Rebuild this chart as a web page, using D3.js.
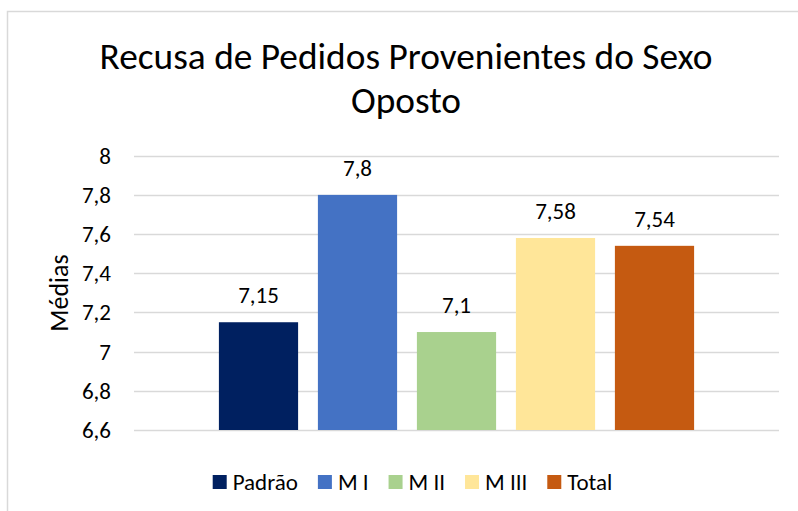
<!DOCTYPE html>
<html>
<head>
<meta charset="utf-8">
<script src="https://cdn.jsdelivr.net/npm/d3@7"></script>
<style>
  body { margin: 0; background: #fff; }
  svg { display: block; }
  text { font-family: Carlito, Calibri, "Liberation Sans", sans-serif; fill: #000; }
</style>
</head>
<body>
<div id="chart"></div>
<script>
// Chart data
const titleLines = ["Recusa de Pedidos Provenientes do Sexo", "Oposto"];
const series = ["Padrão", "M I", "M II", "M III", "Total"];
const values = [7.15, 7.8, 7.1, 7.58, 7.54];
const colors = ["#002060", "#4472C4", "#A9D18E", "#FFE699", "#C55A11"];
const yTicks = [6.6, 6.8, 7, 7.2, 7.4, 7.6, 7.8, 8];
const yLabel = "Médias";

const width = 798, height = 511;
const plot = { left: 134, right: 779, top: 155.7, bottom: 430 };

const svg = d3.select("#chart").append("svg")
    .attr("width", width)
    .attr("height", height);

// chart border (only left and top are visible in the crop)
svg.append("rect")
    .attr("x", 7.5).attr("y", 11.5)
    .attr("width", 820).attr("height", 540)
    .attr("fill", "none")
    .attr("stroke", "#d9d9d9")
    .attr("stroke-width", 1.5);

const y = d3.scaleLinear()
    .domain([6.6, 8])
    .range([plot.bottom, plot.top]);

const x = d3.scaleBand()
    .domain(series)
    .range([209, 704])
    .paddingInner(0.2)
    .paddingOuter(0.1);

const comma = v => String(v).replace(".", ",");

// Gridlines
svg.append("g")
    .selectAll("line")
    .data(yTicks)
    .enter().append("line")
    .attr("x1", plot.left)
    .attr("x2", plot.right)
    .attr("y1", d => Math.round(y(d)) + 0.5)
    .attr("y2", d => Math.round(y(d)) + 0.5)
    .attr("stroke", "#d9d9d9")
    .attr("stroke-width", 1.5);

// Y tick labels
svg.append("g")
    .selectAll("text")
    .data(yTicks)
    .enter().append("text")
    .attr("x", 111)
    .attr("y", d => y(d))
    .attr("dy", "0.35em")
    .attr("text-anchor", "end")
    .style("font-size", "23px")
    .text(d => comma(d));

// Axis title
svg.append("text")
    .attr("transform", "translate(68,293) rotate(-90)")
    .attr("text-anchor", "middle")
    .style("font-size", "26px")
    .text(yLabel);

// Bars
svg.append("g")
    .selectAll("rect")
    .data(values)
    .enter().append("rect")
    .attr("x", (d, i) => x(series[i]))
    .attr("width", x.bandwidth())
    .attr("y", d => y(d))
    .attr("height", d => plot.bottom - y(d))
    .attr("fill", (d, i) => colors[i]);

// Value labels
svg.append("g")
    .selectAll("text")
    .data(values)
    .enter().append("text")
    .attr("x", (d, i) => x(series[i]) + x.bandwidth() / 2)
    .attr("y", d => y(d) - 19)
    .attr("text-anchor", "middle")
    .style("font-size", "23px")
    .text(d => comma(d));

// Title, scaled so the first line spans the same width as the original
const title = svg.append("g");
const t1 = title.append("text")
    .attr("x", 406).attr("y", 69)
    .attr("text-anchor", "middle")
    .style("font-size", "34px")
    .text(titleLines[0]);
const fit = 34 * 613 / t1.node().getComputedTextLength();
t1.style("font-size", fit + "px");
title.append("text")
    .attr("x", 406).attr("y", 113)
    .attr("text-anchor", "middle")
    .style("font-size", fit + "px")
    .text(titleLines[1]);

// Legend
const legend = svg.append("g");
const items = series.map((s, i) => {
    const g = legend.append("g");
    g.append("rect")
        .attr("width", 14).attr("height", 14)
        .attr("y", -7)
        .attr("fill", colors[i]);
    const t = g.append("text")
        .attr("x", 20)
        .attr("dy", "0.35em")
        .style("font-size", "23px")
        .text(s);
    return { g, w: 20 + t.node().getComputedTextLength() };
});
const gap = 20;
const total = d3.sum(items, d => d.w) + gap * (items.length - 1);
let cx = 412.5 - total / 2;
items.forEach(d => {
    d.g.attr("transform", `translate(${cx},482)`);
    cx += d.w + gap;
});
</script>
</body>
</html>
